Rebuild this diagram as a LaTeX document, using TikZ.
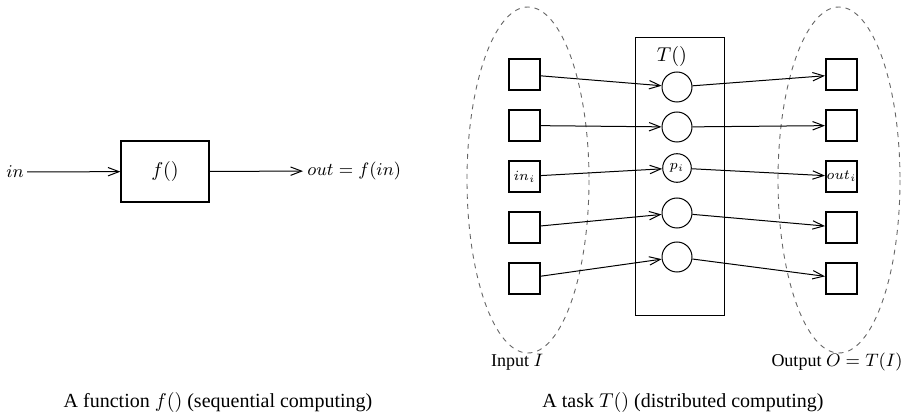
\documentclass[tikz,border=0pt]{standalone}
\usepackage{fontspec}
\setmainfont{Liberation Serif}
\usetikzlibrary{arrows.meta}
\tikzset{
  tip/.style={-{Straight Barb[length=5.5pt,width=4.2pt]}, line width=0.5pt},
  sq/.style={draw, line width=1pt, minimum size=15.5pt, inner sep=0pt, font=\scriptsize},
  proc/.style={draw, circle, line width=0.5pt, minimum size=15pt, inner sep=0pt, font=\scriptsize},
  dashell/.style={draw=black!60, dash pattern=on 2.5pt off 2.5pt, line width=0.45pt},
  lbl/.style={font=\small},
}
\begin{document}
\begin{tikzpicture}[x=0.5pt, y=-0.5pt]
\useasboundingbox (0,0) rectangle (901,417);
% ---- sequential
\node[lbl, inner sep=1.5pt] (inl) at (15,172) {$in$};
\node[draw, line width=0.6pt, minimum width=44pt, minimum height=30.5pt, font=\normalsize] (f) at (165,171.5) {$f()$};
\node[lbl, anchor=west, inner sep=2pt] (outl) at (303,171) {$out = f(in)$};
\draw[tip] (inl) -- (f);
\draw[tip] (f) -- (outl);
\node (cap1) at (218,403) {A function $f()$ (sequential computing)};
% ---- distributed
\draw[dashell] (528,180) ellipse [x radius=61, y radius=173];
\draw[dashell] (839,180) ellipse [x radius=61, y radius=173];
\node[draw, line width=0.5pt, minimum width=44.5pt, minimum height=139pt] (task) at (679.5,177) {};
\node[font=\normalsize] (tl) at (672,57) {$T()$};
\foreach \i/\y in {1/74.5,2/125.5,4/227.5,5/278.5} {
  \node[sq] (in\i) at (524.5,\y) {};
  \node[sq] (out\i) at (841.5,\y) {};
}
\node[sq] (in3) at (524.5,176.5) {$in_i$};
\node[sq] (out3) at (841.5,176.5) {$out_i$};
\node[proc] (p1) at (677,87) {};
\node[proc] (p2) at (677,127) {};
\node[proc, minimum size=14.3pt] (p3) at (677,168) {$p_i$};
\node[proc] (p4) at (677,213) {};
\node[proc] (p5) at (677,257) {};
\foreach \i in {1,...,5} {
  \draw[tip] (in\i) -- (p\i);
  \draw[tip] (p\i) -- (out\i);
}
\node[lbl] (inI) at (517,362) {Input $I$};
\node[lbl] (outO) at (837,362) {Output $O = T(I)$};
\node (cap2) at (683,403) {A task $T()$ (distributed computing)};
\end{tikzpicture}
\end{document}
